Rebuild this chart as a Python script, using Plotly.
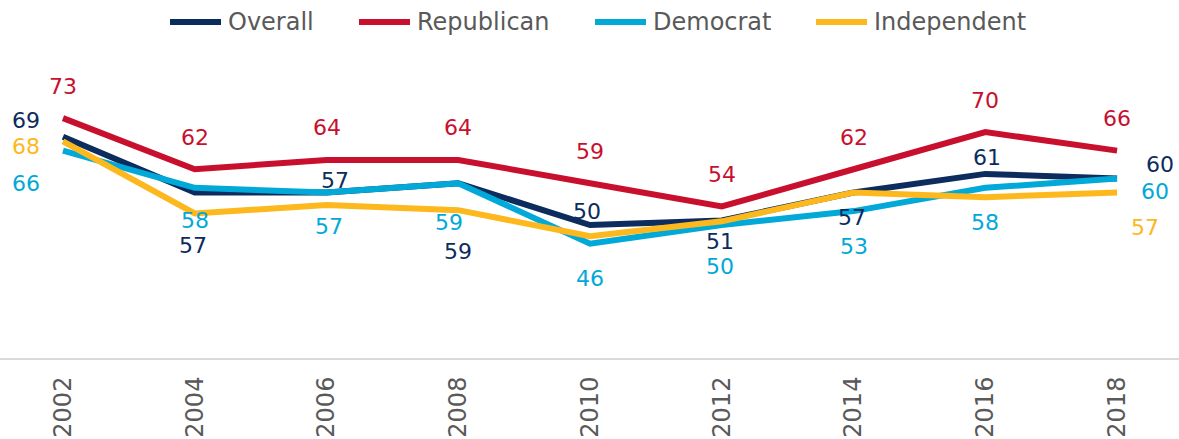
import plotly.graph_objects as go

years = [2002, 2004, 2006, 2008, 2010, 2012, 2014, 2016, 2018]
overall = [69, 57, 57, 59, 50, 51, 57, 61, 60]
republican = [73, 62, 64, 64, 59, 54, 62, 70, 66]
democrat = [66, 58, 57, 59, 46, 50, 53, 58, 60]
independent = [68, 52.5, 54.3, 53.2, 47.6, 50.8, 57, 56, 57]
independent_labels = ["68", "", "", "", "", "", "", "", "57"]
series_names = ["Overall", "Republican", "Democrat", "Independent"]

colors = {
    "Overall": "#0b2c5c",
    "Republican": "#c8102e",
    "Democrat": "#00a9d8",
    "Independent": "#fdb81e",
}

W, H = 1179, 439
M_T, M_B = 40, 81
PLOT_H = H - M_T - M_B

# label offsets (pixels: dx, dy up)
off_overall = [(-37, 16), (-2, -53), (8, 12), (0, -68), (-3, 14), (-2, -21), (-2, -25), (2, 16), (43, 14)]
off_rep = [(0, 32)] * 9
off_dem = [(-37, -33), (0, -33), (2, -34), (-9, -39), (0, -35), (-2, -41), (0, -35), (0, -35), (38, -13)]
off_ind = [(-37, -5), None, None, None, None, None, None, None, (28, -35)]

# legend layout (pixel x of symbol start)
legend_x = [167, 356, 592, 813]
LEG_SYM = 57
LEG_Y = 22

fig = go.Figure()
series = [
    ("Overall", overall, [str(v) for v in overall], off_overall),
    ("Republican", republican, [str(v) for v in republican], off_rep),
    ("Democrat", democrat, [str(v) for v in democrat], off_dem),
    ("Independent", independent, independent_labels, off_ind),
]
FONT = "'DejaVu Sans', sans-serif"
for name, vals, labels, offs in series:
    fig.add_trace(go.Scatter(
        x=years, y=vals, name=name, mode="lines",
        line=dict(color=colors[name], width=6), showlegend=False,
    ))
for name, vals, labels, offs in reversed(series):
    for x, v, t, o in zip(years, vals, labels, offs):
        if o is None or not t:
            continue
        fig.add_annotation(x=x, y=v, text=t, showarrow=False,
                           xshift=o[0], yshift=o[1],
                           font=dict(size=22, color=colors[name], family=FONT))

# legend
ly = (H - M_B - LEG_Y) / PLOT_H
for name, lx in zip(series_names, legend_x):
    fig.add_shape(type="line", xref="paper", yref="paper",
                  x0=(lx + 3) / W, x1=(lx + LEG_SYM - 3) / W, y0=ly, y1=ly,
                  line=dict(color=colors[name], width=6))
    fig.add_annotation(xref="paper", yref="paper", x=(lx + LEG_SYM + 2) / W, y=ly,
                       xanchor="left", yanchor="middle", text=name, showarrow=False,
                       font=dict(size=24, color="#595959", family=FONT))

fig.update_layout(
    width=W, height=H,
    margin=dict(l=0, r=0, t=M_T, b=M_B, autoexpand=False),
    paper_bgcolor="white", plot_bgcolor="white",
    font=dict(family=FONT, color="#595959"),
    showlegend=False,
)
fig.update_xaxes(range=[2001.044, 2018.94], tickmode="array", tickvals=years,
                 ticktext=[str(y) for y in years], tickangle=-90,
                 tickfont=dict(size=24, color="#595959", family=FONT),
                 showgrid=False, zeroline=False, showline=True, automargin=False,
                 linecolor="#d9d9d9", linewidth=2, ticks="", ticklabelstandoff=7)
fig.update_yaxes(range=[21.4, 89.8], visible=False, showgrid=False, zeroline=False)

fig.write_html("out.html", config={"displayModeBar": False},
               post_script="document.body.style.margin='0';document.body.style.overflow='hidden';")
